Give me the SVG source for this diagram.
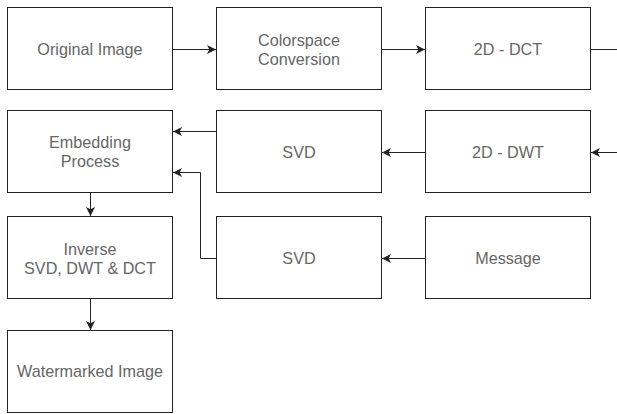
<svg xmlns="http://www.w3.org/2000/svg" width="617" height="414" viewBox="0 0 617 414">
<style>
.box{fill:#fff;stroke:#222;stroke-width:1}
.lbl{font-family:"Liberation Sans",Arial,sans-serif;font-size:16.2px;fill:#666;text-anchor:middle}
.edge{fill:none;stroke:#222;stroke-width:1}
</style>
<defs>
<marker id="ah" viewBox="0 0 10 10" refX="9.5" refY="5" markerWidth="10" markerHeight="10" markerUnits="userSpaceOnUse" orient="auto">
<path d="M0.5,0.5 L9.5,5 L0.5,9.5 L2.8,5 Z" fill="#222"/>
</marker>
</defs>
<rect width="617" height="414" fill="#fff"/>
<g id="n-original"><rect class="box" x="7.5" y="7.5" width="165" height="82"/><text class="lbl" x="90" y="54.5">Original Image</text></g>
<g id="n-colorspace"><rect class="box" x="216.5" y="7.5" width="165" height="82"/><text class="lbl" x="299" y="45.5">Colorspace</text><text class="lbl" x="299" y="64.5">Conversion</text></g>
<g id="n-dct"><rect class="box" x="425.5" y="7.5" width="165" height="82"/><text class="lbl" x="508" y="54.5">2D - DCT</text></g>
<g id="n-embed"><rect class="box" x="7.5" y="110.5" width="165" height="82"/><text class="lbl" x="90" y="148">Embedding</text><text class="lbl" x="90" y="167">Process</text></g>
<g id="n-svd1"><rect class="box" x="216.5" y="110.5" width="165" height="82"/><text class="lbl" x="299" y="157.5">SVD</text></g>
<g id="n-dwt"><rect class="box" x="425.5" y="110.5" width="165" height="82"/><text class="lbl" x="508" y="157.5">2D - DWT</text></g>
<g id="n-inverse"><rect class="box" x="7.5" y="216.5" width="165" height="82"/><text class="lbl" x="90" y="254.5">Inverse</text><text class="lbl" x="90" y="273.5">SVD, DWT &amp; DCT</text></g>
<g id="n-svd2"><rect class="box" x="216.5" y="216.5" width="165" height="82"/><text class="lbl" x="299" y="263.5">SVD</text></g>
<g id="n-message"><rect class="box" x="425.5" y="216.5" width="165" height="82"/><text class="lbl" x="508" y="263.5">Message</text></g>
<g id="n-watermarked"><rect class="box" x="7.5" y="330.5" width="165" height="82"/><text class="lbl" x="90" y="377">Watermarked Image</text></g>
<g id="connectors">
<path class="edge" d="M173,49.5 L216,49.5" marker-end="url(#ah)"/>
<path class="edge" d="M382,49.5 L425,49.5" marker-end="url(#ah)"/>
<path class="edge" d="M591,49.5 L617,49.5"/>
<path class="edge" d="M617,152.5 L591,152.5" marker-end="url(#ah)"/>
<path class="edge" d="M425,152.5 L382,152.5" marker-end="url(#ah)"/>
<path class="edge" d="M216,131.5 L173,131.5" marker-end="url(#ah)"/>
<path class="edge" d="M216,258.5 L200.5,258.5 L200.5,172.5 L173,172.5" marker-end="url(#ah)"/>
<path class="edge" d="M425,258.5 L382,258.5" marker-end="url(#ah)"/>
<path class="edge" d="M90.5,193 L90.5,216" marker-end="url(#ah)"/>
<path class="edge" d="M90.5,299 L90.5,330" marker-end="url(#ah)"/>
</g>
</svg>
